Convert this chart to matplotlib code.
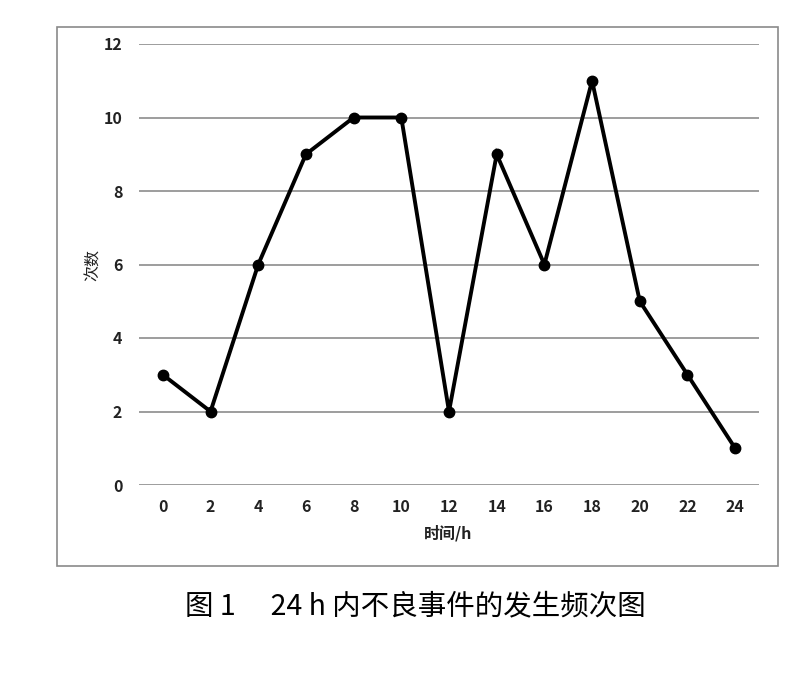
import matplotlib
matplotlib.use("Agg")
import matplotlib.pyplot as plt
from matplotlib.patches import Rectangle

plt.rcParams['font.family'] = ['Noto Sans CJK SC', 'DejaVu Sans']

hours = ["0", "2", "4", "6", "8", "10", "12", "14", "16", "18", "20", "22", "24"]
counts = [3, 2, 6, 9, 10, 10, 2, 9, 6, 11, 5, 3, 1]
yticks = [0, 2, 4, 6, 8, 10, 12]

W, H = 811, 694
fig = plt.figure(figsize=(W/100, H/100), dpi=100)
fig.patch.set_facecolor("white")

# outer frame
fig.add_artist(Rectangle((57/W, 1-566/H), (778-57)/W, (566-27)/H,
                         transform=fig.transFigure, fill=False,
                         edgecolor="#8a8a8a", linewidth=1.2))

ax = fig.add_axes([139/W, 1-485/H, (759-139)/W, (485-44)/H])
x = list(range(len(hours)))
ax.plot(x, counts, color="black", linewidth=2.8, marker="o", markersize=7.5,
        zorder=3, solid_joinstyle="miter")
ax.set_xlim(-0.5, len(hours)-0.5)
ax.set_ylim(0, 12)
ax.set_xticks(x)
ax.set_xticklabels(hours)
ax.set_yticks(yticks)
ax.set_yticklabels([str(v) for v in yticks])
ax.grid(axis="y", color="#8c8c8c", linewidth=1.2)
ax.set_axisbelow(True)
for s in ax.spines.values():
    s.set_visible(False)
ax.tick_params(axis="both", length=0, labelsize=11.5, colors="#222222")
ax.tick_params(axis="y", pad=12)
ax.tick_params(axis="x", pad=10)
for lab in ax.get_xticklabels() + ax.get_yticklabels():
    lab.set_fontweight("bold")

fig.text(93/W, 1-265/H, "次数", rotation=90, ha="center", va="center",
         fontsize=11.5, color="#222222")
fig.text(448/W, 1-533/H, "时间/h", ha="center", va="center",
         fontsize=11.5, color="#222222", fontweight="bold")
fig.text(415/W, 1-606/H, "图 1\u3000 24 h 内不良事件的发生频次图", ha="center", va="center",
         fontsize=20.5, color="black", fontweight="medium")

fig.savefig("out.png", dpi=100, facecolor="white")
